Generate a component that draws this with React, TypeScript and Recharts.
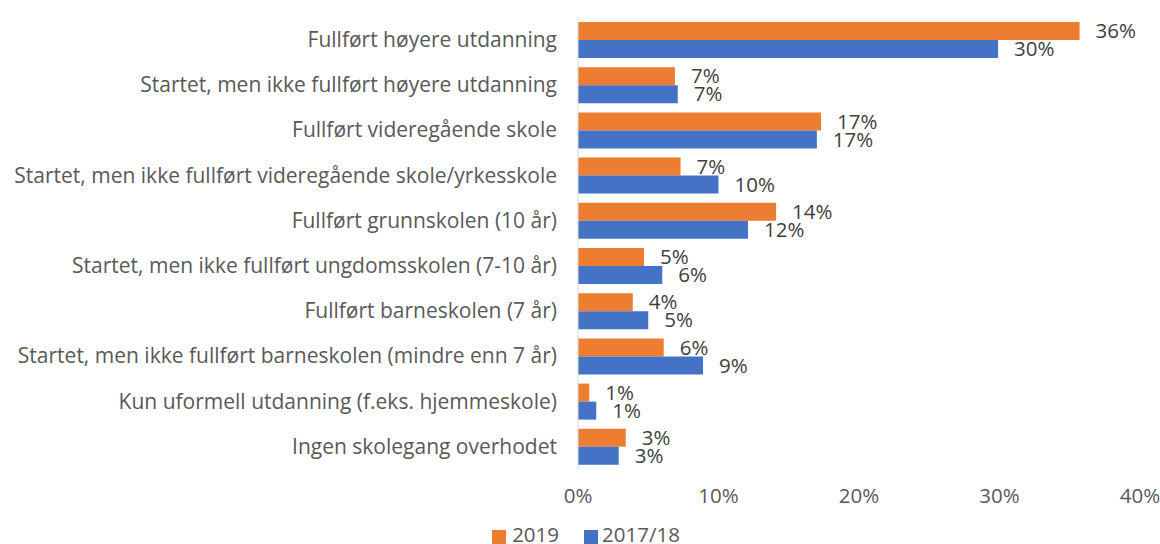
import { BarChart, Bar, XAxis, YAxis, Legend, LabelList } from 'recharts';

const categories = [
    "Fullført høyere utdanning",
    "Startet, men ikke fullført høyere utdanning",
    "Fullført videregående skole",
    "Startet, men ikke fullført videregående skole/yrkesskole",
    "Fullført grunnskolen (10 år)",
    "Startet, men ikke fullført ungdomsskolen (7-10 år)",
    "Fullført barneskolen (7 år)",
    "Startet, men ikke fullført barneskolen (mindre enn 7 år)",
    "Kun uformell utdanning (f.eks. hjemmeskole)",
    "Ingen skolegang overhodet",
];

const values2019 = [35.7, 6.9, 17.3, 7.3, 14.1, 4.7, 3.9, 6.1, 0.8, 3.4];
const values201718 = [29.9, 7.1, 17.0, 10.0, 12.1, 6.0, 5.0, 8.9, 1.3, 2.9];

const xTicks = [0, 10, 20, 30, 40];
const seriesOrder = ['2019', '2017/18'];

const FONT = '"Open Sans", sans-serif';
const FS = 20.5;

const data = categories.map((name, i) => ({
    name,
    y2019: values2019[i],
    y201718: values201718[i],
}));

const pct = (v: any) => `${Math.round(Number(v))}%`;

const App = () => {
    return (
        <div style={{ position: 'absolute', left: 0, top: 0, fontFamily: FONT }}>
            <BarChart
                width={1160}
                height={544}
                data={data}
                layout="vertical"
                margin={{ top: 17, right: 20, left: 0, bottom: 0 }}
                barGap={0}
                barCategoryGap="10%"
            >
                <XAxis
                    type="number"
                    domain={[0, 40]}
                    ticks={xTicks}
                    tickFormatter={pct}
                    axisLine={false}
                    tickLine={false}
                    tickMargin={13}
                    height={49}
                    tick={{ fill: '#595959', fontSize: FS, fontFamily: FONT }}
                />
                <YAxis
                    type="category"
                    dataKey="name"
                    width={578}
                    axisLine={{ stroke: '#d9d9d9' }}
                    tickLine={false}
                    tickMargin={15}
                    interval={0}
                    tick={{ fill: '#595959', fontSize: 21, fontFamily: FONT }}
                />
                <Legend
                    verticalAlign="bottom"
                    iconType="square"
                    iconSize={14}
                    itemSorter={(item: any) => seriesOrder.indexOf(item.value)}
                    formatter={(value: any) => (
                        <span style={{ color: '#595959', marginLeft: value === '2019' ? 2 : 0, marginRight: value === '2019' ? 15 : 0 }}>{value}</span>
                    )}
                    wrapperStyle={{ fontSize: FS, fontFamily: FONT, lineHeight: '26px', left: 21, bottom: -3 }}
                />
                <Bar dataKey="y2019" name="2019" fill="#ED7D31" barSize={18} isAnimationActive={false}>
                    <LabelList dataKey="y2019" position="right" offset={16} formatter={pct} fill="#404040" fontSize={FS} fontFamily={FONT} />
                </Bar>
                <Bar dataKey="y201718" name="2017/18" fill="#4472C4" barSize={18} isAnimationActive={false}>
                    <LabelList dataKey="y201718" position="right" offset={16} formatter={pct} fill="#404040" fontSize={FS} fontFamily={FONT} />
                </Bar>
            </BarChart>
        </div>
    );
};

export default App;
